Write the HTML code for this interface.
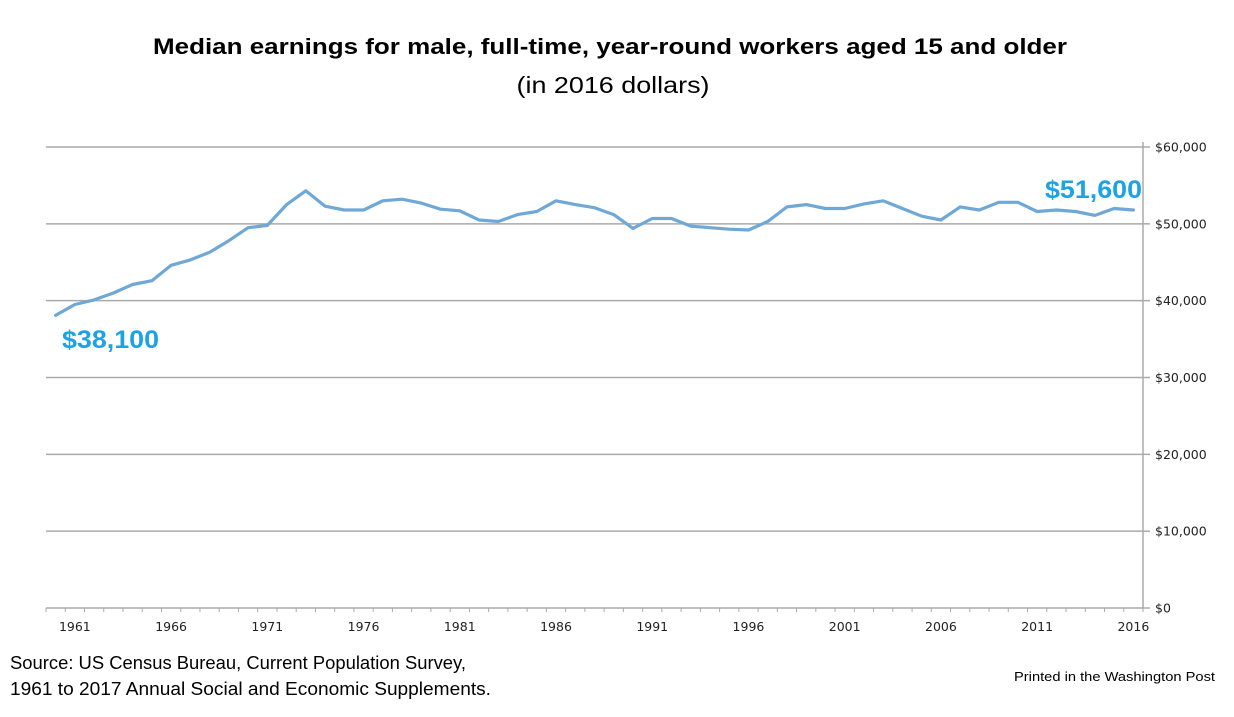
<!DOCTYPE html>
<html><head><meta charset="utf-8"><style>
html,body{margin:0;padding:0;background:#fff;}
svg{display:block;}
</style></head><body>
<svg id="chart" width="1234" height="717" viewBox="0 0 1234 717" xmlns="http://www.w3.org/2000/svg">
<text x="610" y="54" text-anchor="middle" font-family="Liberation Sans, sans-serif" font-weight="bold" font-size="22" textLength="914" lengthAdjust="spacingAndGlyphs" fill="#000">Median earnings for male, full-time, year-round workers aged 15 and older</text>
<text x="613" y="93" text-anchor="middle" font-family="Liberation Sans, sans-serif" font-size="23" textLength="193" lengthAdjust="spacingAndGlyphs" fill="#000">(in 2016 dollars)</text>
<g id="grid"></g>
<g id="yaxis"></g>
<g id="xaxis"></g>
<g id="series"></g>
<text x="62" y="348" font-family="Liberation Sans, sans-serif" font-weight="bold" font-size="25" fill="#1ba3e6" textLength="97" lengthAdjust="spacingAndGlyphs">$38,100</text>
<text x="1045" y="198" font-family="Liberation Sans, sans-serif" font-weight="bold" font-size="25" fill="#1ba3e6" textLength="97" lengthAdjust="spacingAndGlyphs">$51,600</text>
<text x="10" y="669" font-family="Liberation Sans, sans-serif" font-size="18" fill="#000" textLength="456" lengthAdjust="spacingAndGlyphs">Source: US Census Bureau, Current Population Survey,</text>
<text x="10" y="695" font-family="Liberation Sans, sans-serif" font-size="18" fill="#000" textLength="481" lengthAdjust="spacingAndGlyphs">1961 to 2017 Annual Social and Economic Supplements.</text>
<text x="1014" y="681" font-family="Liberation Sans, sans-serif" font-size="13" fill="#000" textLength="201" lengthAdjust="spacingAndGlyphs">Printed in the Washington Post</text>
</svg>
<script>
const years = [];
for (let y = 1960; y <= 2016; y++) years.push(y);
const earnings = [38.1,39.5,40.1,41.0,42.1,42.6,44.6,45.3,46.3,47.8,49.5,49.8,52.5,54.3,52.3,51.8,51.8,53.0,53.2,52.7,51.9,51.7,50.5,50.3,51.2,51.6,53.0,52.5,52.1,51.2,49.4,50.7,50.7,49.7,49.5,49.3,49.2,50.3,52.2,52.5,52.0,52.0,52.6,53.0,52.0,51.0,50.5,52.2,51.8,52.8,52.8,51.6,51.8,51.6,51.1,52.0,51.8];
const yTicks = [0,10,20,30,40,50,60];
const yTickLabels = ["$0","$10,000","$20,000","$30,000","$40,000","$50,000","$60,000"];
const xLabelYears = [1961,1966,1971,1976,1981,1986,1991,1996,2001,2006,2011,2016];

const NS = "http://www.w3.org/2000/svg";
const L = 46, R = 1143, T = 147, B = 608;
const n = years.length, bw = (R - L) / n;
function xPos(year){ return L + (years.indexOf(year) + 0.5) * bw; }
function yPos(v){ return B - (v / 60) * (B - T); }
function mk(tag, attrs, parent){ const e = document.createElementNS(NS, tag); for (const k in attrs) e.setAttribute(k, attrs[k]); parent.appendChild(e); return e; }

const grid = document.getElementById('grid');
const yaxis = document.getElementById('yaxis');
const xaxis = document.getElementById('xaxis');
const series = document.getElementById('series');

yTicks.forEach((t, i) => {
  const yy = yPos(t);
  if (t > 0) {
    const g = mk('line', {x1:L, x2:R, y1:yy, y2:yy, stroke:'#aaaaaa', 'stroke-width':1.5}, grid);
    
    
  }
  const tk = mk('line', {x1:R, x2:R+7, y1:yy, y2:yy, stroke:'#aaaaaa', 'stroke-width':1.5}, yaxis);
  
  
  const lb = mk('text', {x:1155, y:yy+4.5, 'font-family':'DejaVu Sans, sans-serif', 'font-size':12.5, fill:'#222'}, yaxis);
  lb.textContent = yTickLabels[i];
  
  
});
const ax = mk('line', {x1:R, x2:R, y1:T-5, y2:B, stroke:'#aaaaaa', 'stroke-width':1.5}, yaxis);



const bx = mk('line', {x1:L, x2:R, y1:B, y2:B, stroke:'#aaaaaa', 'stroke-width':1.5}, xaxis);


for (let i = 0; i <= n; i++) {
  const xx = L + i * bw;
  const tk = mk('line', {x1:xx, x2:xx, y1:B, y2:B+4, stroke:'#aaaaaa', 'stroke-width':1}, xaxis);
  
  
}
xLabelYears.forEach(yr => {
  const lb = mk('text', {x:xPos(yr), y:631, 'text-anchor':'middle', 'font-family':'DejaVu Sans, sans-serif', 'font-size':12.5, fill:'#222'}, xaxis);
  lb.textContent = String(yr);
  
  
});

const pts = years.map((yr, i) => xPos(yr).toFixed(1) + ',' + yPos(earnings[i]).toFixed(1)).join(' ');
const line = mk('polyline', {points:pts, fill:'none', stroke:'#6fa8d6', 'stroke-width':3.2, 'stroke-linejoin':'round', 'stroke-linecap':'round'}, series);


</script>
</body></html>
